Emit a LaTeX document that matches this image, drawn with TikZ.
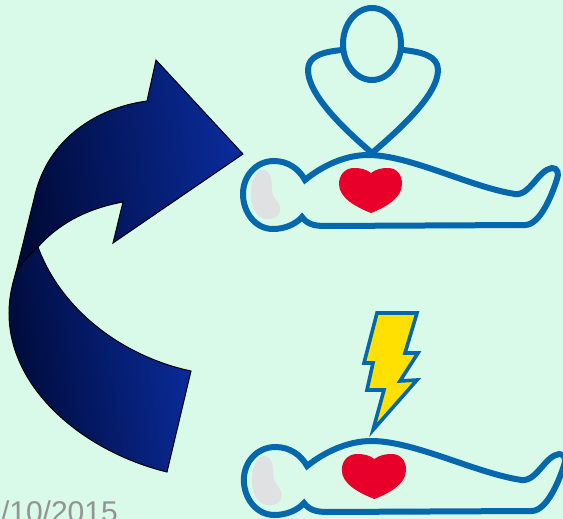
\documentclass[tikz,border=0pt]{standalone}
\usepackage{fontspec}
\setmainfont{Liberation Sans}
\definecolor{bgmint}{HTML}{D9FAE8}
\definecolor{bodyblue}{HTML}{0568AE}
\definecolor{heartred}{HTML}{E8002A}
\definecolor{facegray}{HTML}{DFE1E3}
\definecolor{boltyellow}{HTML}{FFE000}
\definecolor{arrowdark}{HTML}{000A38}
\definecolor{arrowmid}{HTML}{021F6E}
\definecolor{arrowbright}{HTML}{0A2C9C}
\definecolor{dategray}{HTML}{939393}
\tikzset{
  outline/.style={draw=bodyblue,line width=6pt,line join=round,line cap=round},
  bodyline/.style={draw=bodyblue,line width=6pt,line join=miter,miter limit=8},
  arrowband/.style={left color=arrowdark,middle color=arrowmid,right color=arrowbright,shading angle=98},
  arrowedge/.style={draw=black,line width=1pt,line join=miter},
  patient/.pic={
    \fill[facegray] (263,170) .. controls (270,171) and (272,178) .. (272,190)
      .. controls (272,199) and (280,201) .. (280,209)
      .. controls (280,217) and (273,220) .. (266,219)
      .. controls (256,218) and (251,207) .. (251,195)
      .. controls (251,182) and (255,170) .. (263,170) -- cycle;
    \fill[heartred] (371,173) .. controls (376,169) and (382,168) .. (388,168)
      .. controls (397,168) and (402,175) .. (402,184)
      .. controls (402,198) and (386,207) .. (371,213)
      .. controls (356,207) and (339,198) .. (339,184)
      .. controls (339,175) and (345,168) .. (354,168)
      .. controls (360,168) and (366,169) .. (371,173) -- cycle;
    \draw[bodyline] (305,180) .. controls (322,166) and (345,155) .. (368,155)
      .. controls (410,155) and (470,187) .. (515,194)
      .. controls (530,196) and (538,170) .. (552,168)
      .. controls (558,168) and (559,174) .. (557,179)
      .. controls (552,195) and (540,225) .. (525,225)
      -- (325,226) .. controls (314,226) and (307,224) .. (302,217)
      .. controls (296,224) and (285,229) .. (273,229)
      .. controls (255,229) and (243,212) .. (243,194)
      .. controls (243,176) and (256,161) .. (274,161)
      .. controls (288,161) and (299,169) .. (305,180) -- cycle;
  }
}
\begin{document}
\begin{tikzpicture}[x=1pt,y=-1pt]
\useasboundingbox (0,0) rectangle (563,519);
\fill[bgmint] (0,0) rectangle (563,519);
\begin{scope}
\clip (0,0) rectangle (563,519);
\node[anchor=base east,text=dategray,font=\fontsize{30}{30}\selectfont,inner sep=0pt] (datelabel) at (118,522) {/10/2015};
\end{scope}
% curved arrow
\path[arrowband] (156,60) -- (243,154) -- (113,243) -- (123,202)
  .. controls (90,208) and (60,222) .. (38,247)
  .. controls (28,256) and (21,264) .. (16,272)
  -- (35,195) .. controls (48,140) and (95,108) .. (147,101) -- cycle;
\draw[arrowedge] (156,60) -- (243,154) -- (113,243) -- (123,202)
  .. controls (90,208) and (60,222) .. (38,247)
  .. controls (28,256) and (21,264) .. (16,272)
  -- (35,195) .. controls (48,140) and (95,108) .. (147,101) -- cycle;
\path[arrowband] (16,272) .. controls (21,264) and (28,256) .. (38,247)
  .. controls (62,312) and (125,357) .. (191,371)
  -- (167,472) .. controls (85,452) and (9,390) .. (9,313)
  .. controls (9,298) and (12,285) .. (16,272) -- cycle;
\draw[arrowedge] (16,272) .. controls (21,264) and (28,256) .. (38,247)
  .. controls (62,312) and (125,357) .. (191,371)
  -- (167,472) .. controls (85,452) and (9,390) .. (9,313)
  .. controls (9,298) and (12,285) .. (16,272) -- cycle;
% rescuer
\draw[outline] (342,50) .. controls (322,52) and (308,56) .. (308,70)
  .. controls (308,95) and (345,130) .. (372,153)
  .. controls (399,130) and (438,95) .. (438,70)
  .. controls (438,56) and (422,52) .. (403,50);
\draw[outline] (372,44) ellipse [x radius=29,y radius=36];
% patients
\pic at (0,0) {patient};
\pic[xscale=1.02] at (-4,286) {patient};
% bolt
\draw[draw=bodyblue,fill=boltyellow,line width=3.6pt,line join=miter] (377,313) -- (417,313) -- (405,353) -- (418,353) -- (400,381) -- (417,380) -- (373,430) -- (384,390) -- (367,390) -- (373,363) -- (364,363) -- cycle;
\end{tikzpicture}
\end{document}
